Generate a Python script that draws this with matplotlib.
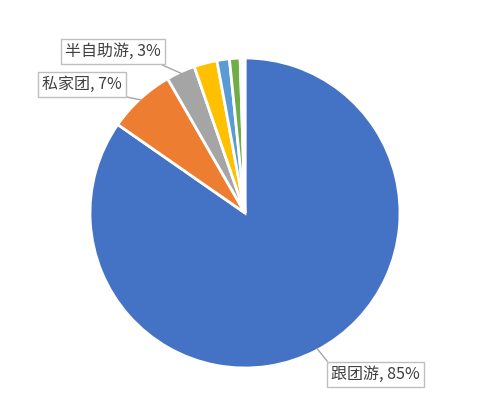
import numpy as np
import matplotlib
matplotlib.use("Agg")
import matplotlib.pyplot as plt

plt.rcParams['font.family'] = ['Noto Sans CJK SC', 'DejaVu Sans']

# share of trip types, clockwise from 12 o'clock
names = ["跟团游", "私家团", "半自助游", "自助游", "定制游", "其他", "未知"]
shares = [84.5, 7.0, 3.0, 2.4, 1.3, 1.1, 0.5]
colors = ["#4472C4", "#ED7D31", "#A5A5A5", "#FFC000", "#5B9BD5", "#70AD47", "#FFFFFF"]
labels_shown = ["跟团游, 85%", "私家团, 7%", "半自助游, 3%"]

fig = plt.figure(figsize=(4.94, 4.0), dpi=100)
cx, cy, r = 245, 213, 155
ax = fig.add_axes([(cx - r) / 494, (400 - cy - r) / 400, 2 * r / 494, 2 * r / 400])

wedges, _ = ax.pie(shares, colors=colors, startangle=90, counterclock=False,
                   wedgeprops=dict(edgecolor="white", linewidth=2))
ax.set_xlim(-1, 1)
ax.set_ylim(-1, 1)
ax.set_aspect("equal")

# label box centres (data units) and which corner of the box the leader leaves from
label_pos = [(0.84, -1.04), (-1.05, 0.83), (-0.85, 1.04)]
rel = [(0.0, 1.0), (0.8, 0.0), (0.9, 0.0)]
for i, txt in enumerate(labels_shown):
    w = wedges[i]
    if i == 0:
        ang = np.deg2rad(-62)
    else:
        ang = np.deg2rad((w.theta1 + w.theta2) / 2)
    ax.annotate(txt, xy=(np.cos(ang) * 0.99, np.sin(ang) * 0.99), xytext=label_pos[i],
                ha="center", va="center", fontsize=11.5, color="#404040",
                bbox=dict(boxstyle="square,pad=0.25", fc="white", ec="#BFBFBF", lw=1),
                arrowprops=dict(arrowstyle="-", color="#A6A6A6", lw=1, relpos=rel[i],
                                shrinkA=0, shrinkB=0),
                annotation_clip=False)

fig.savefig("out.png", dpi=100)
